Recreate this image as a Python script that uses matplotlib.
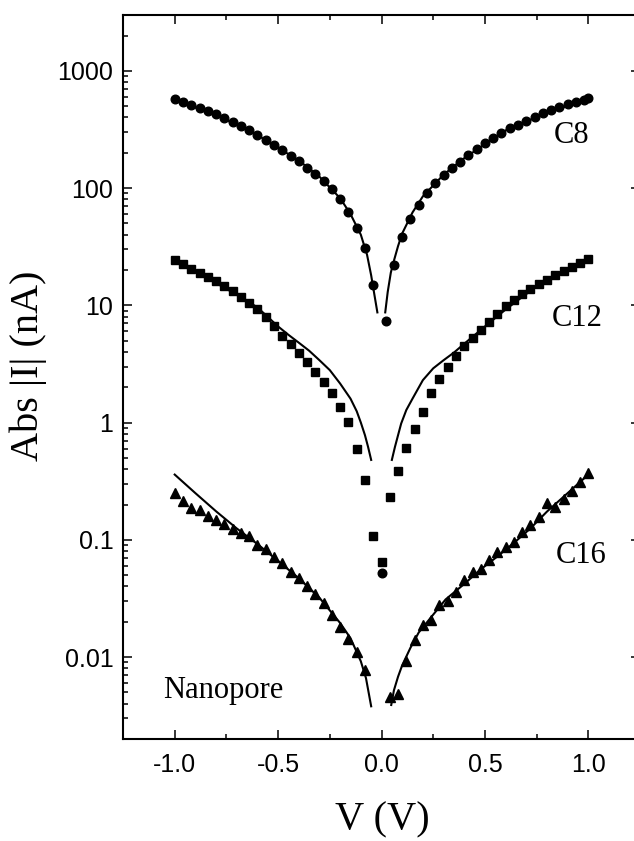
import matplotlib
matplotlib.use('Agg')
import matplotlib.pyplot as plt
from matplotlib.ticker import MultipleLocator, LogLocator, FixedLocator, FuncFormatter, NullFormatter

plt.rcParams['font.family'] = ['Liberation Sans', 'DejaVu Sans']
plt.rcParams['axes.unicode_minus'] = False

# C8 - circles (measured)
c8_v = [-1.00, -0.96, -0.92, -0.88, -0.84, -0.80, -0.76, -0.72, -0.68, -0.64,
        -0.60, -0.56, -0.52, -0.48, -0.44, -0.40, -0.36, -0.32, -0.28, -0.24,
        -0.20, -0.16, -0.12, -0.08, -0.04, 0.00, 0.02,
        0.06, 0.10, 0.14, 0.18, 0.22, 0.26, 0.30, 0.34, 0.38, 0.42, 0.46, 0.50,
        0.54, 0.58, 0.62, 0.66, 0.70, 0.74, 0.78, 0.82, 0.86, 0.90, 0.94, 0.98, 1.00]
c8_i = [575, 545, 511, 485, 454, 426, 394, 369, 339, 313,
        284, 258, 233, 212, 188, 169, 148, 132, 114, 98,
        80, 63, 46, 31, 15, 0.052, 7.4,
        22, 38, 55, 72, 91, 110, 130, 148, 168, 192, 214, 241,
        268, 297, 325, 347, 372, 405, 434, 463, 494, 518, 546, 564, 582]

# C8 - fit
c8_fit_v_neg = [-1.00, -0.80, -0.60, -0.40, -0.30, -0.20, -0.15, -0.10, -0.07, -0.05, -0.035, -0.02]
c8_fit_i_neg = [560, 420, 283, 172, 125, 82, 60, 40, 27, 18, 12.5, 8.7]
c8_fit_v_pos = [0.018, 0.03, 0.045, 0.06, 0.08, 0.10, 0.15, 0.20, 0.30, 0.40, 0.60, 0.80, 1.00]
c8_fit_i_pos = [8.7, 13, 19, 24, 32, 41, 62, 85, 130, 180, 310, 440, 570]

# C12 - squares (measured)
c12_v = [-1.00, -0.96, -0.92, -0.88, -0.84, -0.80, -0.76, -0.72, -0.68, -0.64,
         -0.60, -0.56, -0.52, -0.48, -0.44, -0.40, -0.36, -0.32, -0.28, -0.24,
         -0.20, -0.16, -0.12, -0.08, -0.04, 0.00,
         0.04, 0.08, 0.12, 0.16, 0.20, 0.24, 0.28, 0.32, 0.36, 0.40, 0.44, 0.48,
         0.52, 0.56, 0.60, 0.64, 0.68, 0.72, 0.76, 0.80, 0.84, 0.88, 0.92, 0.96, 1.00]
c12_i = [24.3, 22.3, 20.5, 19.0, 17.5, 16.0, 14.6, 13.2, 11.8, 10.4,
         9.3, 8.0, 6.6, 5.5, 4.7, 3.9, 3.3, 2.7, 2.2, 1.78,
         1.36, 1.01, 0.59, 0.325, 0.108, 0.065,
         0.23, 0.385, 0.61, 0.875, 1.23, 1.79, 2.36, 3.0, 3.7, 4.5, 5.3, 6.2,
         7.2, 8.4, 9.8, 11.1, 12.4, 13.7, 15.1, 16.5, 18.0, 19.6, 21.2, 23.0, 24.6]

# C12 - fit
c12_fit_v_neg = [-1.00, -0.90, -0.80, -0.70, -0.60, -0.50, -0.45, -0.40, -0.35, -0.30,
                 -0.25, -0.20, -0.15, -0.12, -0.10, -0.08, -0.065, -0.05]
c12_fit_i_neg = [24, 19.5, 15.5, 12.3, 9.6, 6.6, 5.6, 4.8, 4.1, 3.4,
                 2.8, 2.15, 1.6, 1.25, 1.0, 0.78, 0.62, 0.48]
c12_fit_v_pos = [0.05, 0.065, 0.08, 0.095, 0.12, 0.15, 0.20, 0.25, 0.30, 0.35,
                 0.40, 0.50, 0.60, 0.70, 0.80, 0.90, 1.00]
c12_fit_i_pos = [0.48, 0.62, 0.78, 0.98, 1.28, 1.6, 2.3, 2.9, 3.4, 3.95,
                 4.7, 6.6, 9.2, 12.5, 16.5, 20.5, 24.5]

# C16 - triangles (measured)
c16_v = [-1.00, -0.96, -0.92, -0.88, -0.84, -0.80, -0.76, -0.72, -0.68, -0.64,
         -0.60, -0.56, -0.52, -0.48, -0.44, -0.40, -0.36, -0.32, -0.28, -0.24,
         -0.20, -0.16, -0.12, -0.08,
         0.04, 0.08, 0.12, 0.16, 0.20, 0.24, 0.28, 0.32, 0.36, 0.40, 0.44, 0.48,
         0.52, 0.56, 0.60, 0.64, 0.68, 0.72, 0.76, 0.80, 0.84, 0.88, 0.92, 0.96, 1.00]
c16_i = [0.25, 0.215, 0.188, 0.178, 0.16, 0.148, 0.137, 0.124, 0.115, 0.108,
         0.091, 0.083, 0.071, 0.064, 0.053, 0.047, 0.040, 0.0345, 0.029, 0.023,
         0.018, 0.0143, 0.011, 0.0078,
         0.00456, 0.00486, 0.0093, 0.0141, 0.0189, 0.0208, 0.0276, 0.0299, 0.0356,
         0.0456, 0.053, 0.0565, 0.0673, 0.078, 0.086, 0.0966, 0.1175, 0.134, 0.155,
         0.208, 0.19, 0.225, 0.26, 0.31, 0.37]

# C16 - fit
c16_fit_v_neg = [-1.00, -0.90, -0.80, -0.70, -0.60, -0.50, -0.40, -0.30, -0.20,
                 -0.15, -0.10, -0.075, -0.05]
c16_fit_i_neg = [0.36, 0.25, 0.175, 0.125, 0.092, 0.066, 0.047, 0.032, 0.0195,
                 0.0145, 0.0092, 0.0066, 0.0038]
c16_fit_v_pos = [0.047, 0.06, 0.08, 0.10, 0.14, 0.18, 0.25, 0.31, 0.40, 0.48,
                 0.56, 0.64, 0.72, 0.80, 0.90, 1.00]
c16_fit_i_pos = [0.0039, 0.0052, 0.0068, 0.0085, 0.012, 0.0162, 0.023, 0.031, 0.042,
                 0.056, 0.072, 0.094, 0.125, 0.174, 0.25, 0.36]

y_ticks = [0.01, 0.1, 1, 10, 100, 1000]

fig = plt.figure(figsize=(6.34, 8.41), dpi=100)
ax = fig.add_axes([0.194, 0.1213, 0.8155, 0.861])
ax.set_yscale('log')

# fits
for xs, ys in [(c8_fit_v_neg, c8_fit_i_neg), (c8_fit_v_pos, c8_fit_i_pos),
               (c12_fit_v_neg, c12_fit_i_neg), (c12_fit_v_pos, c12_fit_i_pos),
               (c16_fit_v_neg, c16_fit_i_neg), (c16_fit_v_pos, c16_fit_i_pos)]:
    ax.plot(xs, ys, color='black', lw=1.5)

# data
ax.plot(c8_v, c8_i, 'o', color='black', ms=6.2, ls='none')
ax.plot(c12_v, c12_i, 's', color='black', ms=5.3, ls='none')
ax.plot(c16_v, c16_i, '^', color='black', ms=7.2, ls='none')

ax.set_xlim(-1.25, 1.25)
ax.set_ylim(0.002, 3000)

ax.xaxis.set_major_locator(MultipleLocator(0.5))
ax.xaxis.set_minor_locator(MultipleLocator(0.25))
ax.yaxis.set_major_locator(FixedLocator(y_ticks))
ax.yaxis.set_minor_locator(LogLocator(base=10, subs=[2, 3, 4, 5, 6, 7, 8, 9], numticks=20))
ax.yaxis.set_major_formatter(FuncFormatter(lambda v, p: '%g' % v))
ax.yaxis.set_minor_formatter(NullFormatter())

ax.tick_params(which='both', direction='in', top=True, right=True, width=1.1)
ax.tick_params(which='major', length=6.5, labelsize=18)
ax.tick_params(which='minor', length=3.3)
ax.tick_params(axis='x', which='major', pad=10)
ax.tick_params(axis='y', which='major', pad=7)
for s in ax.spines.values():
    s.set_linewidth(1.5)

ax.set_ylabel('Abs |I| (nA)', family='Liberation Serif', fontsize=29)
ax.set_xlabel('V (V)', family='Liberation Serif', fontsize=29)
ax.yaxis.set_label_coords(-0.147, 0.515)
ax.xaxis.set_label_coords(0.501, -0.086)

# labels on curves
ax.text(0.833, 243, 'C8', family='Liberation Serif', fontsize=22, va='baseline')
ax.text(0.823, 6.6, 'C12', family='Liberation Serif', fontsize=22, va='baseline')
ax.text(0.843, 0.063, 'C16', family='Liberation Serif', fontsize=22, va='baseline')
ax.text(-1.056, 0.0045, 'Nanopore', family='Liberation Serif', fontsize=22, va='baseline')

fig.savefig('out.png', dpi=100)
